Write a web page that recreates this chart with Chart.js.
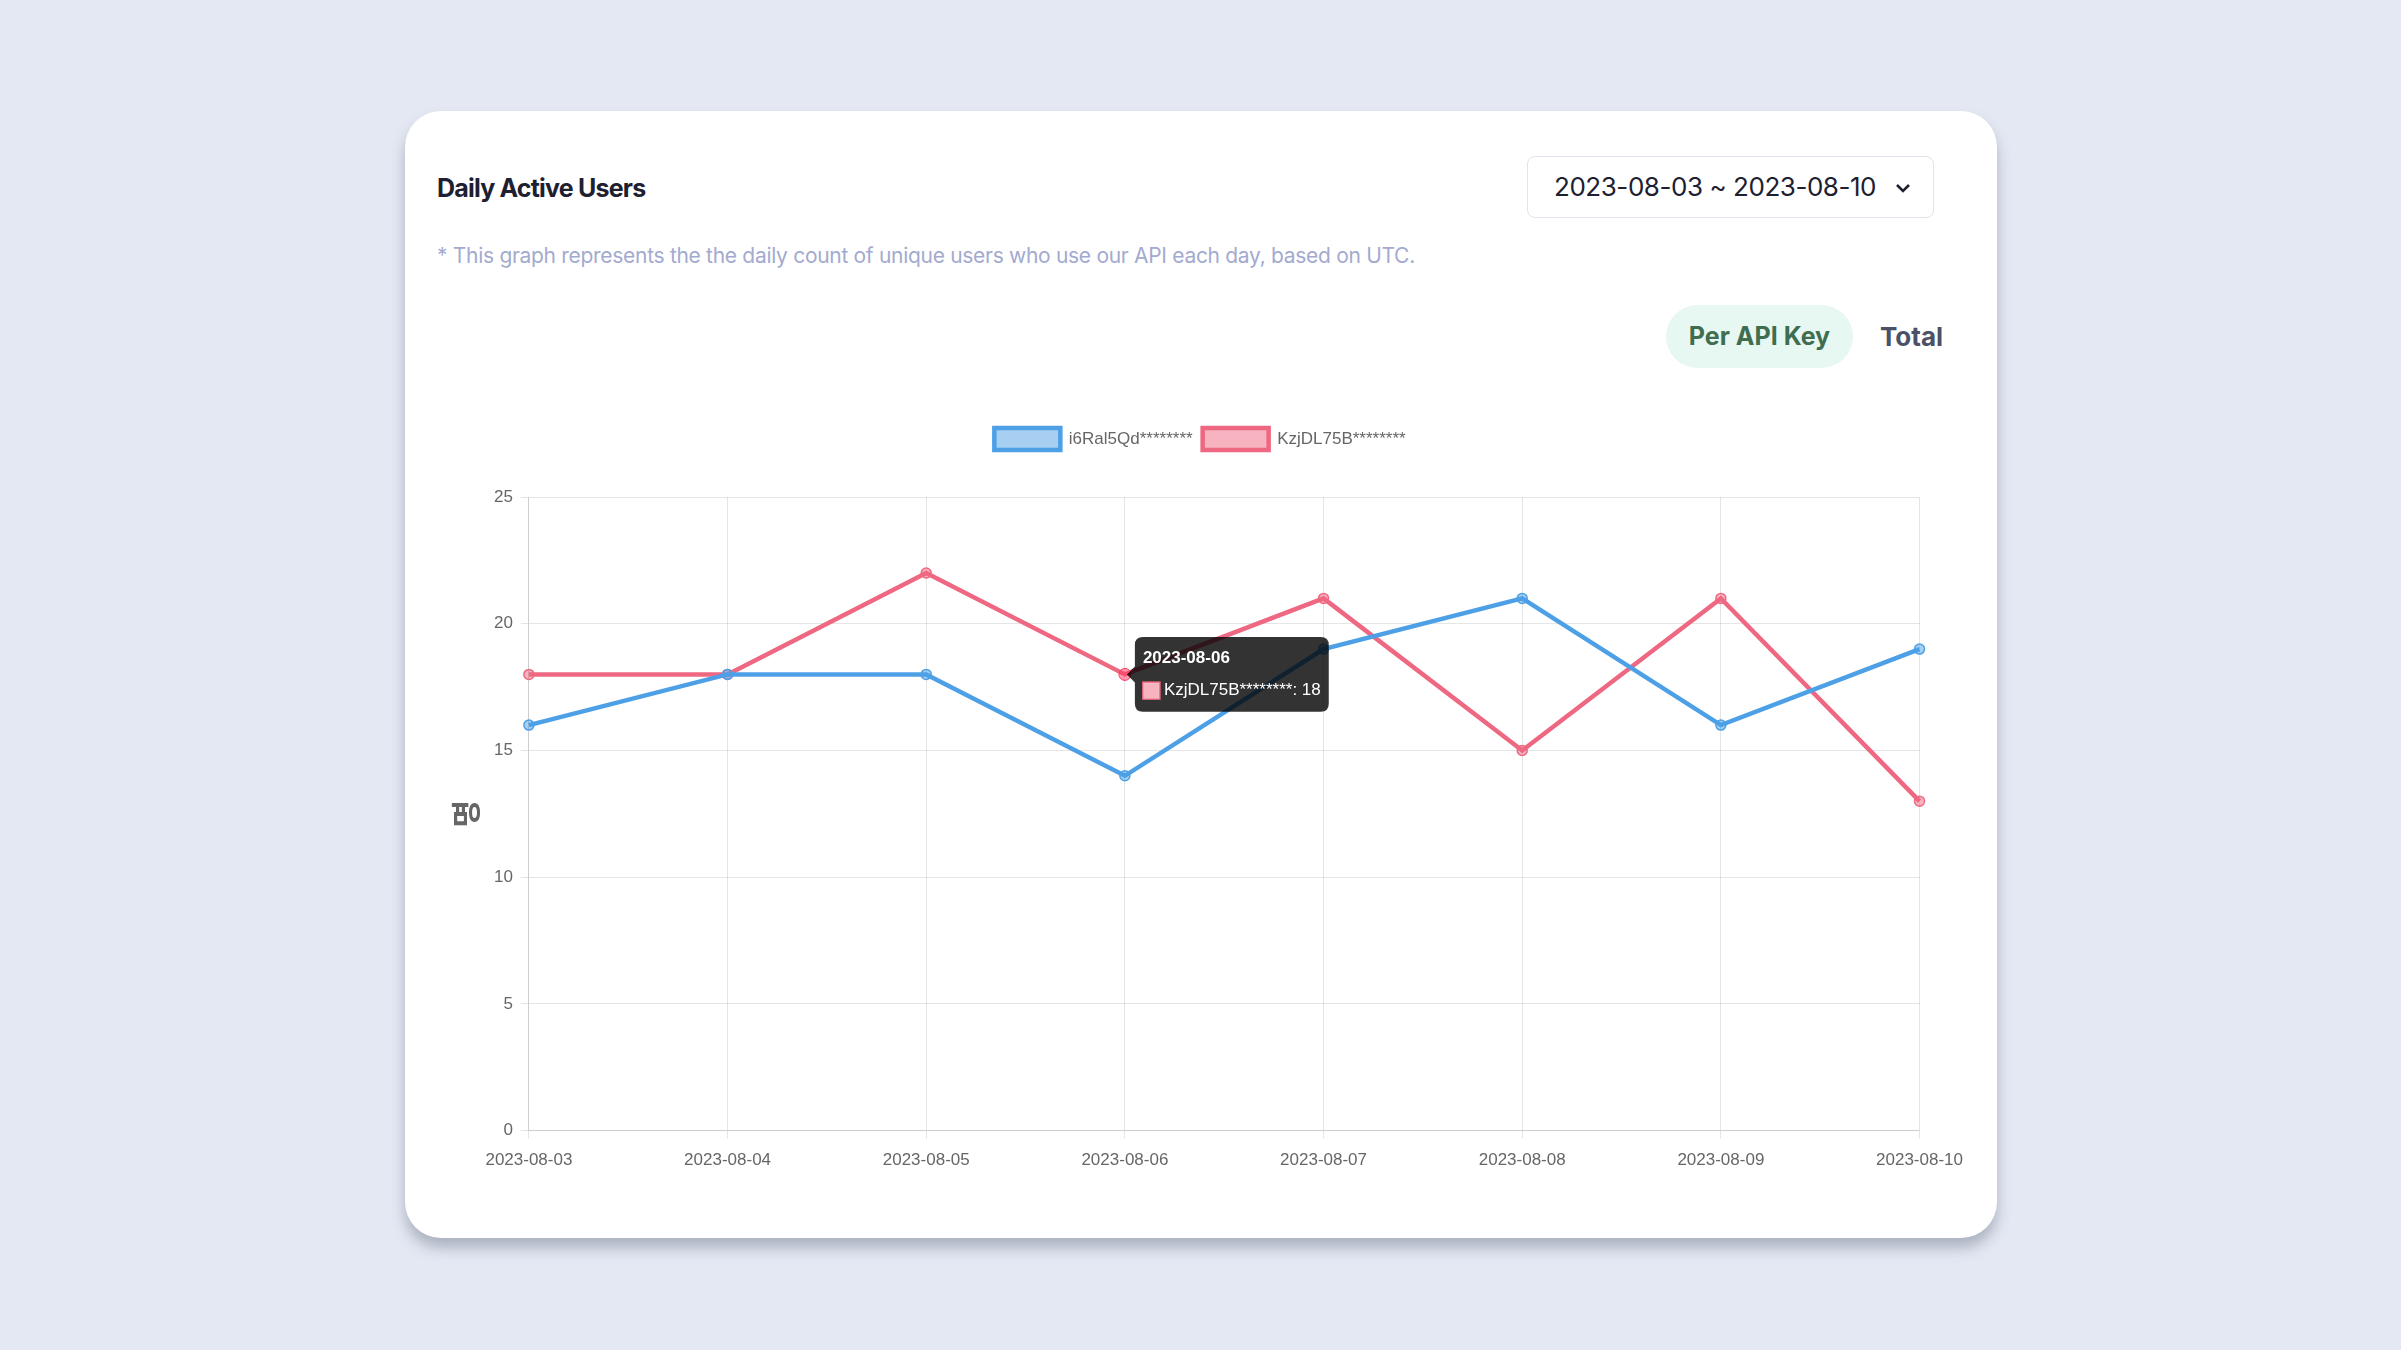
<!DOCTYPE html>
<html>
<head>
<meta charset="utf-8">
<script src="https://cdn.jsdelivr.net/npm/chart.js@4/dist/chart.umd.min.js"></script>
<style>
  html, body { margin:0; padding:0; }
  body { width:2401px; height:1350px; background:#e4e8f3; position:relative; overflow:hidden; font-family:"Inter","Noto Sans",sans-serif; }
  .card { position:absolute; left:405px; top:111px; width:1592px; height:1127px; background:#fff; border-radius:36px; box-shadow:0 10px 14px rgba(70,80,100,0.35); }
  .title { position:absolute; left:437px; top:173px; font-size:25px; font-weight:700; color:#1d2030; letter-spacing:-0.8px; }
  .select { position:absolute; left:1527px; top:156px; width:407px; height:62px; border:1.5px solid #dfe3ec; border-radius:8px; box-sizing:border-box; }
  .select span { position:absolute; left:26px; top:14px; font-size:26px; color:#1d2030; letter-spacing:-0.45px; }
  .select svg { position:absolute; right:22px; top:25px; }
  .sub { position:absolute; left:437px; top:243px; font-size:21px; color:#a3aacf; letter-spacing:-0.3px; }
  .pill { position:absolute; left:1666px; top:305px; width:187px; height:63px; border-radius:32px; background:#e7f7f2; color:#3e6d4f; font-size:25px; font-weight:700; text-align:center; line-height:63px; }
  .total { position:absolute; left:1880px; top:305px; line-height:63px; font-size:26px; font-weight:700; color:#4b5166; }
  .wrap { position:absolute; left:444px; top:418px; width:1531px; height:765px; }
</style>
</head>
<body>
<div class="card"></div>
<div class="title">Daily Active Users</div>
<div class="select"><span>2023-08-03 ~ 2023-08-10</span>
<svg width="16" height="12" viewBox="0 0 16 12"><polyline points="2,3 8,9 14,3" fill="none" stroke="#1d2030" stroke-width="2.5"/></svg></div>
<div class="sub">* This graph represents the the daily count of unique users who use our API each day, based on UTC.</div>
<div class="pill">Per API Key</div>
<div class="total">Total</div>
<div class="wrap"><canvas id="c"></canvas></div>
<script>
const categories = ["2023-08-03","2023-08-04","2023-08-05","2023-08-06","2023-08-07","2023-08-08","2023-08-09","2023-08-10"];
const seriesA = [16, 18, 18, 14, 19, 21, 16, 19];
const seriesB = [18, 18, 22, 18, 21, 15, 21, 13];
const seriesNames = ["i6Ral5Qd********", "KzjDL75B********"];
const yTitle = "명";

const FONT = '"Liberation Sans", Arial, sans-serif';
const CANVAS_LEFT = 444;

const legendMargin = {
  id: 'legendMargin',
  beforeInit(chart) {
    const orig = chart.legend.fit;
    chart.legend.fit = function() { orig.bind(chart.legend)(); this.height += 37; };
  },
  afterLayout(chart) {
    const lg = chart.legend;
    const w = lg.right - lg.left;
    const c = 1200 - CANVAS_LEFT;
    lg.left = c - w / 2;
    lg.right = c + w / 2;
  }
};

const chart = new Chart(document.getElementById('c'), {
  type: 'line',
  data: {
    labels: categories,
    datasets: [
      { label: seriesNames[0], data: seriesA, borderColor: 'rgb(78,160,230)', backgroundColor: 'rgba(78,160,230,0.5)', borderWidth: 4.5, pointRadius: 5, pointHoverRadius: 6, pointBorderWidth: 1.5, tension: 0 },
      { label: seriesNames[1], data: seriesB, borderColor: 'rgb(239,104,130)', backgroundColor: 'rgba(239,104,130,0.5)', borderWidth: 4.5, pointRadius: 5, pointHoverRadius: 6, pointBorderWidth: 1.5, tension: 0 }
    ]
  },
  options: {
    responsive: true,
    maintainAspectRatio: false,
    animation: false,
    layout: { padding: { right: 45, bottom: 0 } },
    plugins: {
      legend: {
        position: 'top',
        labels: { boxWidth: 66, boxHeight: 22, font: { size: 17, family: FONT }, color: '#666', padding: 10 }
      },
      tooltip: {
        backgroundColor: 'rgba(0,0,0,0.8)',
        titleFont: { size: 17, weight: 'bold', family: FONT },
        bodyFont: { size: 17, family: FONT },
        titleMarginBottom: 12,
        padding: { x: 8, y: 11 }, caretSize: 8, cornerRadius: 8, boxPadding: 2
      }
    },
    scales: {
      x: {
        ticks: { color: '#666', font: { size: 17, family: FONT }, maxRotation: 0, padding: 12 },
        grid: { color: 'rgba(0,0,0,0.1)' }
      },
      y: {
        min: 0, max: 25,
        ticks: { stepSize: 5, color: '#666', font: { size: 17, family: FONT }, padding: 8 },
        grid: { color: 'rgba(0,0,0,0.1)' },
        title: { display: true, text: yTitle, color: '#666', padding: { top: 4, bottom: 2 }, font: { size: 30, weight: 'bold', family: '"Noto Sans CJK KR", sans-serif' } }
      }
    }
  },
  plugins: [legendMargin]
});

const meta = chart.getDatasetMeta(1);
const pt = meta.data[3];
chart.setActiveElements([{ datasetIndex: 1, index: 3 }]);
chart.tooltip.setActiveElements([{ datasetIndex: 1, index: 3 }], { x: pt.x, y: pt.y });
chart.update();
</script>
</body>
</html>
